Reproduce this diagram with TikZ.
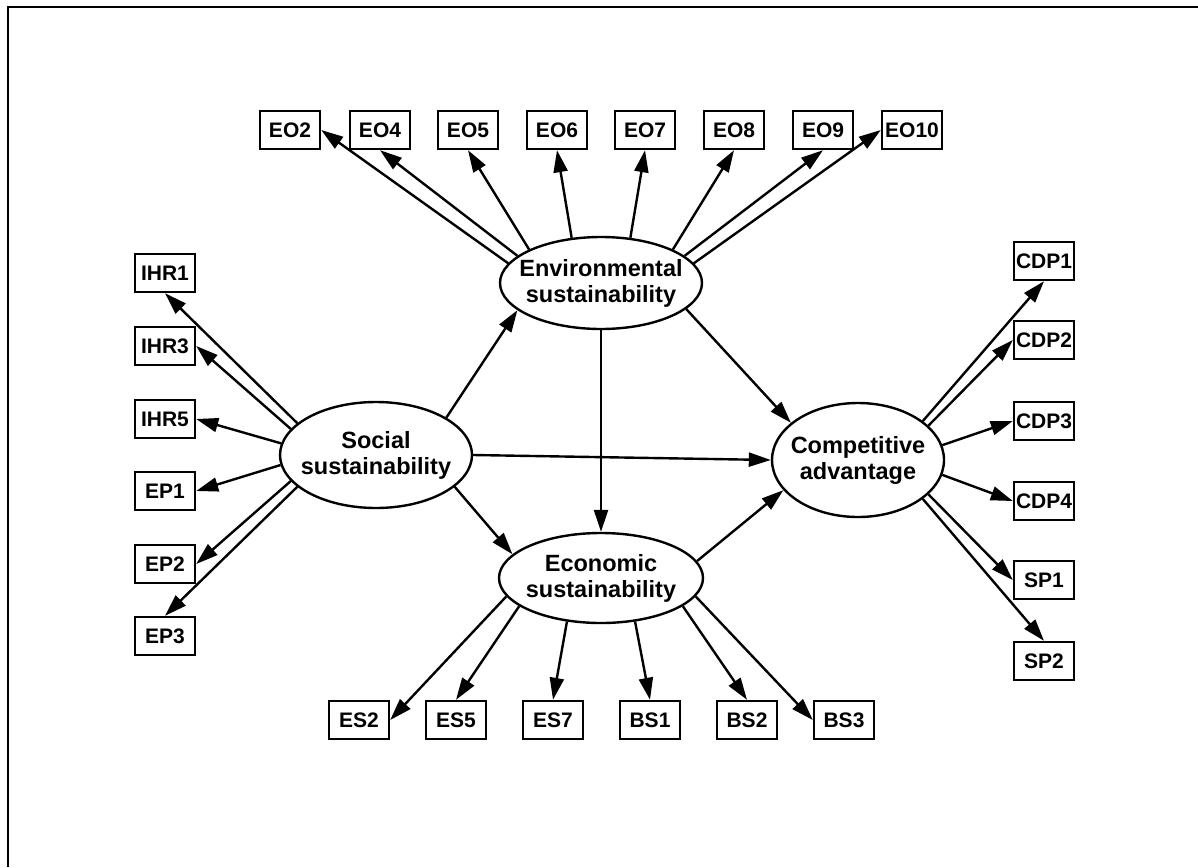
\documentclass[tikz,border=0pt]{standalone}
\usepackage{fontspec}
\setmainfont{Liberation Sans}
\usetikzlibrary{arrows.meta,shapes.geometric}

\begin{document}
\begin{tikzpicture}[x=1pt,y=-1pt,
  ind/.style={draw, line width=2.4pt, minimum width=60pt, minimum height=38pt,
    inner sep=0.5pt, font=\fontsize{21}{22}\selectfont\bfseries},
  latent/.style={draw, ellipse, line width=2.4pt, inner sep=0pt},
  lbl/.style={align=center, inner sep=0pt, font=\fontsize{23.5}{26}\selectfont\bfseries},
  link/.style={line width=2.4pt, -{Triangle[length=22pt,width=14pt]}},
]
\useasboundingbox (0,0) rectangle (1198,867);

% frame (top and left rules)
\coordinate (fbl) at (8,867);
\coordinate (ftl) at (8,7);
\coordinate (ftr) at (1198,7);
\draw[line width=2.6pt] (fbl) -- (ftl) -- (ftr);

% latent constructs
\node[latent, minimum width=202pt, minimum height=92pt] (env) at (601,283) {};
\node[latent, minimum width=192pt, minimum height=106pt] (soc) at (376,455) {};
\node[latent, minimum width=204pt, minimum height=90pt] (eco) at (601,578) {};
\node[latent, minimum width=172pt, minimum height=114pt] (comp) at (858,460) {};
\node[lbl] (envtxt) at (env.center) {Environmental\\sustainability};
\node[lbl] (soctxt) at (soc.center) {Social\\sustainability};
\node[lbl] (ecotxt) at (eco.center) {Economic\\sustainability};
\node[lbl] (comptxt) at (comp.center) {Competitive\\advantage};

% environmental indicators
\node[ind] (EO2) at (290,130) {EO2};
\node[ind] (EO4) at (380,130) {EO4};
\node[ind] (EO5) at (468,130) {EO5};
\node[ind] (EO6) at (557,130) {EO6};
\node[ind] (EO7) at (645,130) {EO7};
\node[ind] (EO8) at (734,130) {EO8};
\node[ind] (EO9) at (823,130) {EO9};
\node[ind] (EO10) at (912,130) {EO10};

% social indicators
\node[ind] (IHR1) at (165,273) {IHR1};
\node[ind] (IHR3) at (165,346) {IHR3};
\node[ind] (IHR5) at (165,419) {IHR5};
\node[ind] (EP1) at (165,491) {EP1};
\node[ind] (EP2) at (165,564) {EP2};
\node[ind] (EP3) at (165,636) {EP3};

% competitive advantage indicators
\node[ind] (CDP1) at (1044,261) {CDP1};
\node[ind] (CDP2) at (1044,340) {CDP2};
\node[ind] (CDP3) at (1044,421) {CDP3};
\node[ind] (CDP4) at (1044,501) {CDP4};
\node[ind] (SP1) at (1044,580) {SP1};
\node[ind] (SP2) at (1044,661) {SP2};

% economic indicators
\node[ind] (ES2) at (359,720) {ES2};
\node[ind] (ES5) at (456,720) {ES5};
\node[ind] (ES7) at (553,720) {ES7};
\node[ind] (BS1) at (650,720) {BS1};
\node[ind] (BS2) at (747,720) {BS2};
\node[ind] (BS3) at (844,720) {BS3};

% structural paths
\draw[link] (soc.28) -- (env.198);
\draw[link] (soc.east) -- (comp.west);
\draw[link] (soc.-22) -- (eco.165);
\draw[link] (env.south) -- (eco.north);
\draw[link] (env.-17) -- (comp.151);
\draw[link] (eco.10) -- (comp.202);

% measurement paths
\draw[link] (env.168) -- (EO2.east);
\draw[link] (env.162) -- (EO4.south);
\draw[link] (env.155) -- (EO5.south);
\draw[link] (env.123) -- (EO6.south);
\draw[link] (env.57) -- (EO7.south);
\draw[link] (env.25) -- (EO8.south);
\draw[link] (env.18) -- (EO9.south);
\draw[link] (env.12) -- (EO10.west);

\draw[link] (soc.158) -- (IHR1.south);
\draw[link] (soc.163) -- (IHR3.east);
\draw[link] (soc.173.5) -- (IHR5.east);
\draw[link] (soc.186.5) -- (EP1.east);
\draw[link] (soc.197) -- (EP2.east);
\draw[link] (soc.202) -- (EP3.north);

\draw[link] (comp.31) -- (CDP1.south);
\draw[link] (comp.26) -- (CDP2.west);
\draw[link] (comp.10) -- (CDP3.west);
\draw[link] (comp.-10) -- (CDP4.west);
\draw[link] (comp.-26) -- (SP1.west);
\draw[link] (comp.-31) -- (SP2.north);

\draw[link] (eco.191) -- (ES2.east);
\draw[link] (eco.199) -- (ES5.north);
\draw[link] (eco.232) -- (ES7.north);
\draw[link] (eco.308) -- (BS1.north);
\draw[link] (eco.341) -- (BS2.north);
\draw[link] (eco.349) -- (BS3.west);
\end{tikzpicture}
\end{document}
